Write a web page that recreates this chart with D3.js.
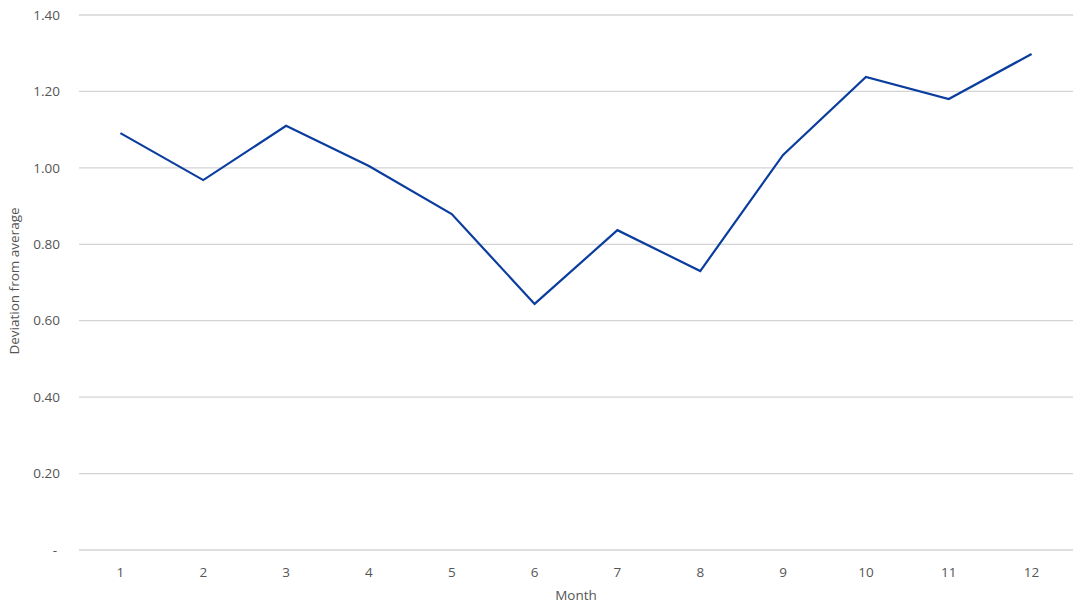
<!DOCTYPE html>
<html><head><meta charset="utf-8">
<script src="https://cdn.jsdelivr.net/npm/d3@7"></script>
<style>body{margin:0;background:#fff;} text{font-family:"Open Sans",sans-serif;}</style>
</head><body>
<svg id="c" width="1084" height="612"></svg>
<script>
const months = ["1","2","3","4","5","6","7","8","9","10","11","12"];
const deviation = [1.091,0.968,1.110,1.005,0.879,0.644,0.837,0.730,1.034,1.238,1.180,1.298];
const yTicks = [0,0.2,0.4,0.6,0.8,1.0,1.2,1.4];
const yTickLabels = ["-","0.20","0.40","0.60","0.80","1.00","1.20","1.40"];

const svg = d3.select("#c");
const mLeft = 79, mRight = 1073, mTop = 15, mBottom = 550;
const x = d3.scaleBand().domain(months).range([mLeft, mRight]);
const y = d3.scaleLinear().domain([0, 1.4]).range([mBottom, mTop]);

svg.append("g").selectAll("line").data(yTicks).join("line")
  .attr("x1", mLeft).attr("x2", mRight)
  .attr("y1", d => y(d)).attr("y2", d => y(d))
  .attr("stroke", "#d4d4d4").attr("stroke-width", 1.3);

svg.append("g").selectAll("text").data(yTicks).join("text")
  .attr("x", (d,i) => i === 0 ? 57 : 60).attr("y", d => y(d)).attr("dy", "0.35em")
  .attr("text-anchor", "end").attr("font-size", 13.5).attr("fill", "#555")
  .text((d,i) => yTickLabels[i]);

svg.append("g").selectAll("text").data(months).join("text")
  .attr("x", d => x(d) + x.bandwidth()/2).attr("y", 577)
  .attr("text-anchor", "middle").attr("font-size", 13.5).attr("fill", "#555")
  .text(d => d);

svg.append("text").attr("x", (mLeft+mRight)/2).attr("y", 600)
  .attr("text-anchor", "middle").attr("font-size", 13.5).attr("fill", "#555").text("Month");

svg.append("text").attr("transform", "translate(19,281) rotate(-90)")
  .attr("text-anchor", "middle").attr("font-size", 13.5).attr("fill", "#555").text("Deviation from average");

const line = d3.line().x((d,i) => x(months[i]) + x.bandwidth()/2).y(d => y(d));
svg.append("path").datum(deviation).attr("d", line)
  .attr("fill", "none").attr("stroke", "#0a3d9e").attr("stroke-width", 2.2)
  .attr("stroke-linejoin", "miter");
</script>
</body></html>
